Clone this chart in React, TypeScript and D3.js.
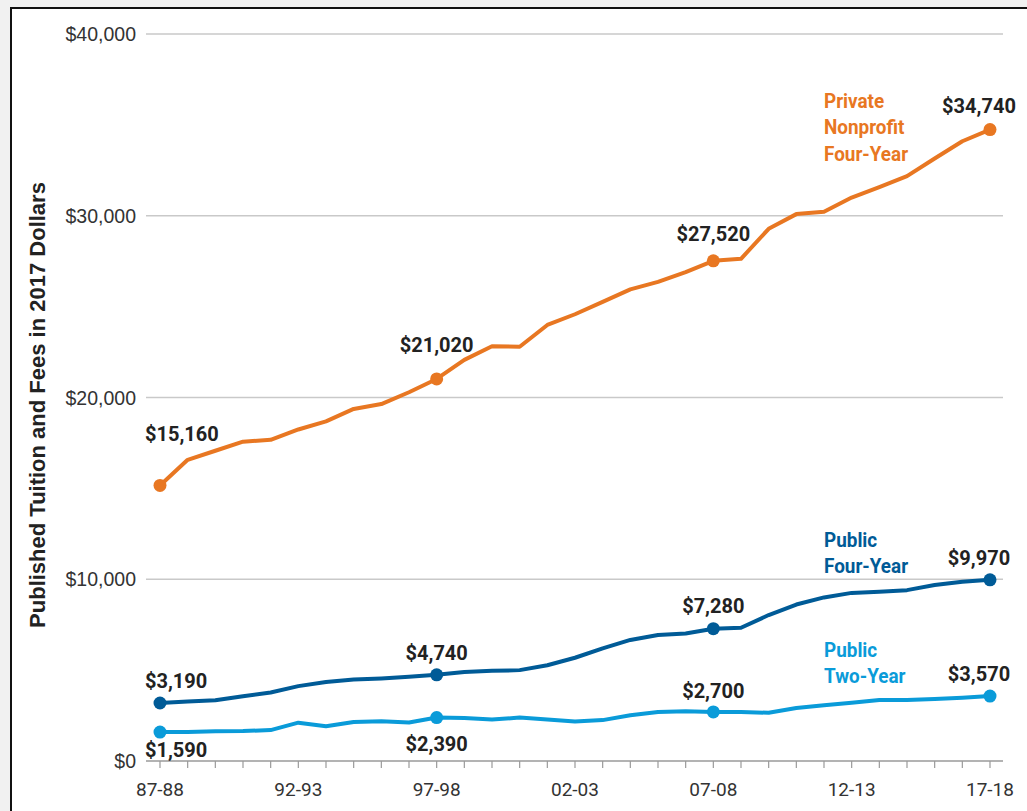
import React from "react";
import * as d3 from "d3";

const years: string[] = [
  "87-88","88-89","89-90","90-91","91-92","92-93","93-94","94-95","95-96","96-97",
  "97-98","98-99","99-00","00-01","01-02","02-03","03-04","04-05","05-06","06-07",
  "07-08","08-09","09-10","10-11","11-12","12-13","13-14","14-15","15-16","16-17","17-18",
];
const xTickLabels: string[] = ["87-88", "92-93", "97-98", "02-03", "07-08", "12-13", "17-18"];
const yTicks: number[] = [0, 10000, 20000, 30000, 40000];

const privateNonprofit: number[] = [
  15160, 16570, 17070, 17570, 17670, 18240, 18690, 19370, 19640, 20290,
  21020, 22070, 22820, 22790, 23990, 24580, 25260, 25950, 26360, 26900,
  27520, 27630, 29280, 30090, 30220, 31000, 31580, 32180, 33150, 34100, 34740,
];
const publicFour: number[] = [
  3190, 3270, 3340, 3560, 3770, 4120, 4350, 4480, 4540, 4630,
  4740, 4900, 4960, 5000, 5270, 5680, 6200, 6660, 6930, 7020,
  7280, 7330, 8030, 8610, 9000, 9250, 9310, 9400, 9680, 9860, 9970,
];
const publicTwo: number[] = [
  1590, 1600, 1640, 1650, 1700, 2110, 1910, 2150, 2190, 2120,
  2390, 2370, 2280, 2390, 2280, 2170, 2250, 2520, 2700, 2740,
  2700, 2700, 2650, 2920, 3070, 3200, 3350, 3350, 3410, 3480, 3570,
];

const markedIdx: number[] = [0, 10, 20, 30];

const ORANGE = "#e87722";
const DARK = "#005b97";
const LIGHT = "#0a9bd9";

const fmt = (v: number) => "$" + d3.format(",")(v);

export default function App() {
  const W = 1027, H = 811;
  const x = d3.scaleLinear().domain([0, years.length - 1]).range([160, 990]);
  const y = d3.scaleLinear().domain([0, 40000]).range([761, 34]);
  const gridX0 = 146, gridX1 = 1003;
  const line = d3.line<number>().x((_, i) => x(i)).y((d) => y(d));

  const series = [
    { data: privateNonprofit, color: ORANGE, name: ["Private", "Nonprofit", "Four-Year"],
      labelOff: [[-15, -44, "start"], [0, -27, "middle"], [0, -20, "middle"], [-11, -17, "middle"]] },
    { data: publicFour, color: DARK, name: ["Public", "Four-Year"],
      labelOff: [[-15, -15, "start"], [0, -15, "middle"], [0, -16, "middle"], [-11, -15, "middle"]] },
    { data: publicTwo, color: LIGHT, name: ["Public", "Two-Year"],
      labelOff: [[-15, 25, "start"], [0, 33, "middle"], [0, -14, "middle"], [-11, -15, "middle"]] },
  ];
  const nameBase = [108, 547, 657];

  return (
    <svg width={W} height={H} style={{ position: "absolute", left: 0, top: 0 }}>
      <rect x={0} y={0} width={W} height={H} fill="#f1f1f1" />
      <rect x={11} y={8} width={W + 20} height={H + 20} fill="#ffffff" stroke="#111" strokeWidth={2} />

      {yTicks.filter((t) => t > 0).map((t) => (
        <line key={t} x1={gridX0} x2={gridX1} y1={y(t)} y2={y(t)} stroke="#c9c9c9" strokeWidth={1.5} />
      ))}
      {yTicks.map((t) => (
        <text key={"yl" + t} x={136} y={y(t) + 7} textAnchor="end" fontFamily="Liberation Sans, Arial, sans-serif"
          fontSize={19.5} fill="#333">{fmt(t)}</text>
      ))}
      <line x1={gridX0} x2={gridX1} y1={y(0)} y2={y(0)} stroke="#9a9a9a" strokeWidth={1.5} />
      {years.map((yr, i) => (
        <line key={"t" + yr} x1={x(i)} x2={x(i)} y1={y(0)} y2={y(0) + 7} stroke="#9a9a9a" strokeWidth={1.2} />
      ))}
      {years.map((yr, i) => xTickLabels.includes(yr) ? (
        <text key={"xl" + yr} x={x(i)} y={796} textAnchor="middle" fontFamily="Roboto, sans-serif"
          fontSize={19} fill="#333">{yr}</text>
      ) : null)}

      <text transform={`translate(45,405) rotate(-90)`} textAnchor="middle"
        fontFamily="Liberation Sans, Arial, sans-serif" fontWeight="bold" fontSize={22} fill="#222">
        Published Tuition and Fees in 2017 Dollars
      </text>

      {series.map((s, si) => (
        <g key={"s" + si}>
          <path d={line(s.data) || ""} fill="none" stroke={s.color} strokeWidth={4} strokeLinejoin="round" strokeLinecap="round" />
          {markedIdx.map((i) => (
            <circle key={i} cx={x(i)} cy={y(s.data[i])} r={6.5} fill={s.color} />
          ))}
          {markedIdx.map((i, k) => {
            const off = s.labelOff[k] as [number, number, string];
            return (
              <text key={"l" + i} x={x(i) + off[0]} y={y(s.data[i]) + off[1]} textAnchor={off[2] as any}
                fontFamily="Roboto, sans-serif" fontWeight={700} fontSize={20} fill="#222">
                {fmt(s.data[i])}
              </text>
            );
          })}
          {s.name.map((nm, k) => (
            <text key={"n" + k} x={824} y={nameBase[si] + k * 26.5}
              fontFamily="Roboto, sans-serif" fontWeight={700} fontSize={21} fill={s.color}
              transform={`translate(${824 * 0.1},0) scale(0.9,1)`}>
              {nm}
            </text>
          ))}
        </g>
      ))}
    </svg>
  );
}
